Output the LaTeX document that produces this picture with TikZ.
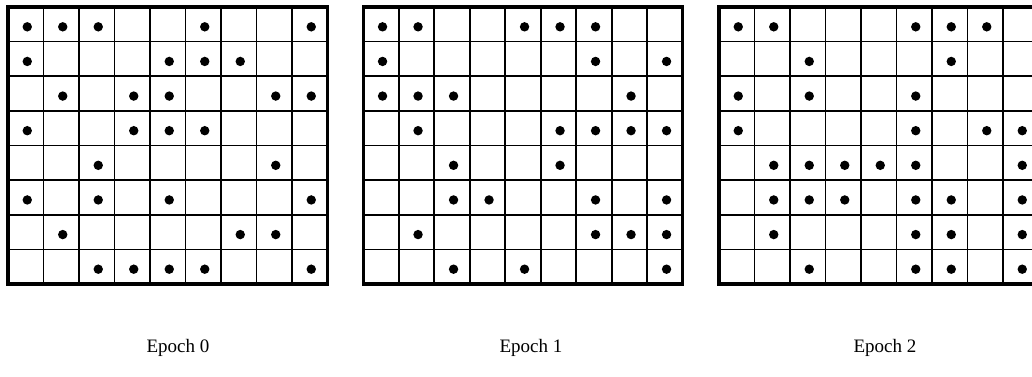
\documentclass[tikz,border=0pt]{standalone}
\usepackage{fontspec}
\setmainfont{Liberation Serif}
\begin{document}
\begin{tikzpicture}[x=1pt,y=-1pt,
  cellline/.style={line width=1.7pt},
  frame/.style={line width=3.2pt},
  lbl/.style={font=\fontsize{19}{23}\selectfont, anchor=base, inner sep=0pt}]
\useasboundingbox (0,0) rectangle (1032,376);
\clip (0,0) rectangle (1032,376);
\def\cw{35.5}
\def\ch{34.625}
\def\gtop{7}
% grids
\foreach \X in {8,363.3,719}{
  \foreach \i in {1,...,8}
    \draw[cellline] (\X+\i*\cw,\gtop) -- (\X+\i*\cw,\gtop+8*\ch);
  \foreach \j in {1,...,7}
    \draw[cellline] (\X,\gtop+\j*\ch) -- (\X+9*\cw,\gtop+\j*\ch);
  \draw[frame] (\X,\gtop) rectangle (\X+9*\cw,\gtop+8*\ch);
}
% dots grid 0
\foreach \r/\cs in {0/{0,1,2,5,8},1/{0,4,5,6},2/{1,3,4,7,8},3/{0,3,4,5},4/{2,7},5/{0,2,4,8},6/{1,6,7},7/{2,3,4,5,8}}
  \foreach \c in \cs
    \fill (8+\c*\cw+\cw/2+1.5,\gtop+\r*\ch+\ch/2+2.5) circle[radius=4.7];
% dots grid 1
\foreach \r/\cs in {0/{0,1,4,5,6},1/{0,6,8},2/{0,1,2,7},3/{1,5,6,7,8},4/{2,5},5/{2,3,6,8},6/{1,6,7,8},7/{2,4,8}}
  \foreach \c in \cs
    \fill (363.3+\c*\cw+\cw/2+1.5,\gtop+\r*\ch+\ch/2+2.5) circle[radius=4.7];
% dots grid 2
\foreach \r/\cs in {0/{0,1,5,6,7},1/{2,6},2/{0,2,5},3/{0,5,7,8},4/{1,2,3,4,5,8},5/{1,2,3,5,6,8},6/{1,5,6,8},7/{2,5,6,8}}
  \foreach \c in \cs
    \fill (719+\c*\cw+\cw/2+1.5,\gtop+\r*\ch+\ch/2+2.5) circle[radius=4.7];
% labels
\node[lbl] (e0) at (178,352) {Epoch 0};
\node[lbl] (e1) at (531,352) {Epoch 1};
\node[lbl] (e2) at (885,352) {Epoch 2};
\end{tikzpicture}
\end{document}
